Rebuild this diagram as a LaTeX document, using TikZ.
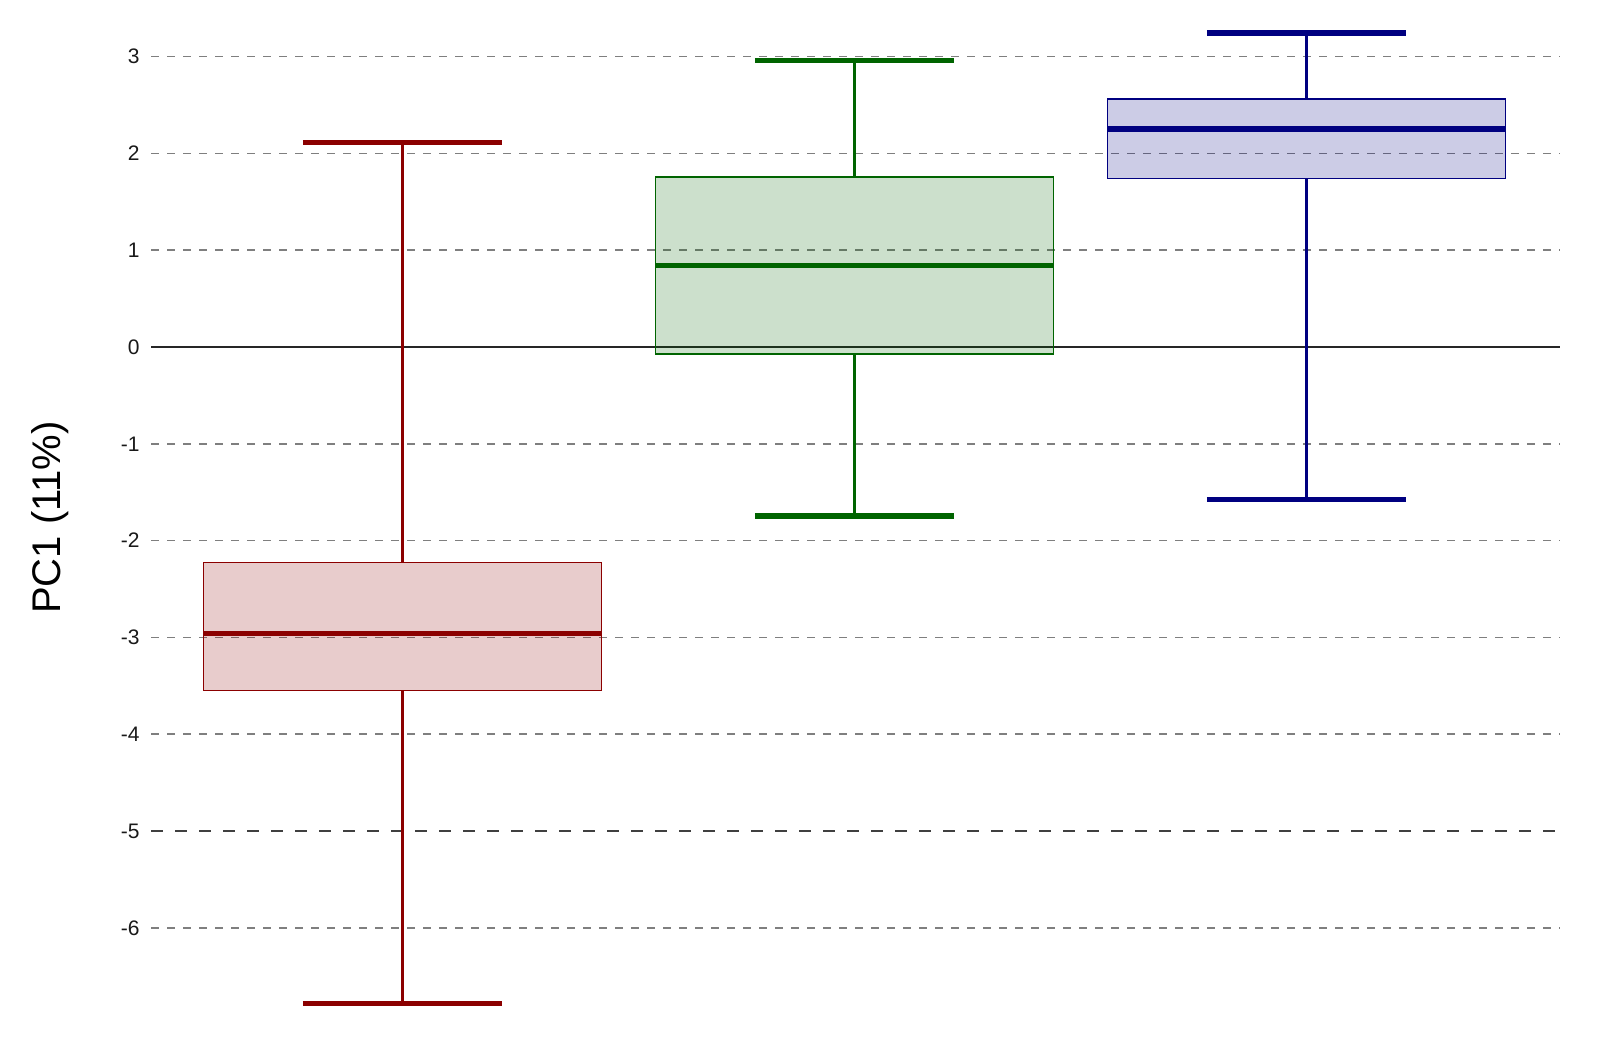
\documentclass[tikz,border=0pt]{standalone}
\usepackage{fontspec}
\setmainfont{Liberation Sans}
\usetikzlibrary{positioning}
\definecolor{rod}{HTML}{8B0000}
\definecolor{gronn}{HTML}{006400}
\definecolor{blaa}{HTML}{000080}
\definecolor{grid}{HTML}{7F7F7F}
\tikzset{
    %Define style for grid lines
    rutenett/.style={
           draw=grid,
           line width=0.85pt,
           dash pattern=on 3.75pt off 4.25pt},
    %Define style for the marked line
    grense/.style={
           draw=black!75,
           line width=1pt,
           dash pattern=on 6pt off 6pt},
    nullinje/.style={
           draw=black!85,
           line width=0.7pt},
    % Define style for boxes
    boks/.style={
           draw=#1,
           fill=#1,
           fill opacity=0.2,
           line width=0.75pt},
    % Define whisker and median styles
    bart/.style={
           draw=#1,
           line width=1.5pt},
    tverr/.style={
           draw=#1,
           line width=2.7pt},
    tall/.style={
           anchor=east,
           inner sep=0pt,
           text=black!90,
           font=\fontsize{10.5}{12}\selectfont}
}
\begin{document}
\begin{tikzpicture}[x=0.5pt,y=48.4pt]
\useasboundingbox (0,-7.149) rectangle (1618,3.585);

 %grid
\foreach \v in {3,2,1,-1,-2,-3,-4,-6}
    \draw[rutenett] (151,\v) -- (1560,\v);
\draw[grense] (151,-5) -- (1560,-5);
\draw[nullinje] (151,0) -- (1560,0);

 %tick labels
\foreach \v in {3,2,1,0,-1,-2,-3,-4,-5,-6}
    \node[tall] (t\v) at (140,\v) {\v};

\node[rotate=90, font=\fontsize{20}{24}\selectfont] (tittel) at (50,-1.761) {PC1 (11\%)};

 %boxes
\foreach \navn/\x/\farge/\lw/\qa/\med/\qb/\uw in {
    r/402.3/rod/-6.78/-3.55/-2.96/-2.225/2.113,
    g/854.3/gronn/-1.745/-0.074/0.84/1.758/2.957,
    b/1306.3/blaa/-1.577/1.742/2.253/2.564/3.246}{
    \coordinate (\navn-lw) at (\x,\lw);
    \coordinate (\navn-qa) at (\x,\qa);
    \coordinate (\navn-qb) at (\x,\qb);
    \coordinate (\navn-uw) at (\x,\uw);
    \draw[bart=\farge] (\navn-qa) -- (\navn-lw);
    \draw[bart=\farge] (\navn-qb) -- (\navn-uw);
    \draw[tverr=\farge] ([xshift=-49.75pt]\navn-lw) -- ([xshift=49.75pt]\navn-lw);
    \draw[tverr=\farge] ([xshift=-49.75pt]\navn-uw) -- ([xshift=49.75pt]\navn-uw);
    \draw[boks=\farge] ([xshift=-99.5pt]\navn-qa) rectangle ([xshift=99.5pt]\navn-qb);
    \draw[tverr=\farge] (\x-199,\med) -- (\x+199,\med);
}
\end{tikzpicture}
\end{document}
